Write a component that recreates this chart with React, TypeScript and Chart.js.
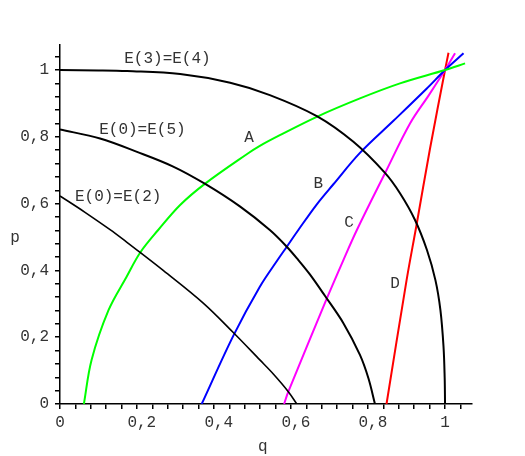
import React, { useEffect, useRef } from 'react';
import { Chart, registerables } from 'chart.js';

Chart.register(...registerables);

// Curves as [q, p] pairs
const curveE34: [number, number][] = [
  [0, 1.0], [0.1, 0.999], [0.174, 0.997], [0.312, 0.988], [0.442, 0.962],
  [0.545, 0.925], [0.667, 0.862], [0.762, 0.785], [0.844, 0.692],
  [0.883, 0.631], [0.922, 0.551], [0.953, 0.461], [0.975, 0.371],
  [0.988, 0.281], [0.996, 0.172], [0.999, 0.08], [1.0, 0.0],
];
const curveE05: [number, number][] = [
  [0, 0.822], [0.104, 0.795], [0.2, 0.755], [0.294, 0.711], [0.377, 0.659],
  [0.468, 0.591], [0.545, 0.521], [0.589, 0.471], [0.619, 0.431], [0.649, 0.388],
  [0.688, 0.324], [0.736, 0.242], [0.779, 0.147], [0.801, 0.077], [0.818, 0.0],
];
const curveE02: [number, number][] = [
  [0, 0.623], [0.065, 0.574], [0.13, 0.522], [0.173, 0.485], [0.208, 0.454],
  [0.268, 0.4], [0.372, 0.302], [0.45, 0.214], [0.519, 0.132], [0.554, 0.09],
  [0.593, 0.037], [0.615, 0.0],
];
const curveA: [number, number][] = [
  [0.062, 0.0], [0.082, 0.132], [0.126, 0.281], [0.173, 0.381], [0.208, 0.453],
  [0.255, 0.521], [0.312, 0.596], [0.377, 0.66], [0.485, 0.748], [0.519, 0.773],
  [0.571, 0.805], [0.667, 0.86], [0.779, 0.915], [0.883, 0.96], [1.0, 1.0], [1.052, 1.02],
];
const curveB: [number, number][] = [
  [0.368, 0.0], [0.45, 0.204], [0.519, 0.351], [0.565, 0.431], [0.589, 0.471],
  [0.619, 0.521], [0.667, 0.598], [0.71, 0.658], [0.779, 0.752], [0.866, 0.848],
  [0.952, 0.944], [1.0, 1.0], [1.048, 1.05],
];
const curveC: [number, number][] = [
  [0.582, 0.0], [0.593, 0.037], [0.693, 0.316], [0.736, 0.431], [0.771, 0.521],
  [0.844, 0.691], [0.909, 0.84], [0.958, 0.925], [1.0, 1.0], [1.026, 1.05],
];
const curveD: [number, number][] = [
  [0.848, 0.0], [0.9, 0.37], [0.925, 0.53], [0.961, 0.765], [1.0, 1.0], [1.009, 1.052],
];

const xTickLabels = ['0', ' 0,2', ' 0,4', ' 0,6', ' 0,8', '1'];
const yTickLabels = ['0', '0,2', '0,4', '0,6', '0,8', '1'];
const minorStep = 0.04;
const minorPerMajor = 5;
const xMax = 1.07;
const yMax = 1.075;

const annotations = [
  { text: 'E(3)=E(4)', q: 0.279, p: 1.033 },
  { text: 'E(0)=E(5)', q: 0.214, p: 0.82 },
  { text: 'E(0)=E(2)', q: 0.151, p: 0.621 },
  { text: 'A', q: 0.491, p: 0.797 },
  { text: 'B', q: 0.671, p: 0.659 },
  { text: 'C', q: 0.751, p: 0.544 },
  { text: 'D', q: 0.87, p: 0.359 },
  { text: 'p', q: -0.117, p: 0.497 },
  { text: 'q', q: 0.527, p: -0.129 },
];

const FONT = '"Liberation Mono", "DejaVu Sans Mono", monospace';
const TEXT_COLOR = '#333';

const toPts = (c: [number, number][]) => c.map(([x, y]) => ({ x, y }));

const buildTicks = (max: number) => {
  const t: { value: number }[] = [];
  for (let k = 0; k * minorStep <= max - 0.02; k++) t.push({ value: +(k * minorStep).toFixed(4) });
  return t;
};

const labelFor = (labels: string[]) => (value: number) => {
  const k = Math.round(value / minorStep);
  if (k % minorPerMajor === 0) {
    const i = k / minorPerMajor;
    return labels[i] ?? '';
  }
  return '';
};

const textPlugin = {
  id: 'texts',
  afterDraw(chart: any) {
    const { ctx } = chart;
    const x = chart.scales.x;
    const y = chart.scales.y;
    ctx.save();
    ctx.font = `16px ${FONT}`;
    ctx.fillStyle = TEXT_COLOR;
    ctx.textAlign = 'center';
    ctx.textBaseline = 'middle';
    for (const a of annotations) {
      ctx.fillText(a.text, x.getPixelForValue(a.q), y.getPixelForValue(a.p));
    }
    ctx.restore();
  },
};

export default function App() {
  const ref = useRef<HTMLCanvasElement | null>(null);
  useEffect(() => {
    document.body.style.margin = '0';
    if (!ref.current) return;
    const ds = (data: [number, number][], color: string, width: number) => ({
      data: toPts(data),
      borderColor: color,
      backgroundColor: color,
      borderWidth: width,
      pointRadius: 0,
      showLine: true,
      tension: 0.35,
      fill: false,
    });
    const chart = new Chart(ref.current, {
      type: 'scatter',
      data: {
        datasets: [
          ds(curveE34, '#000000', 2),
          ds(curveE05, '#000000', 2),
          ds(curveE02, '#000000', 1.6),
          ds(curveA, '#00ff00', 2),
          ds(curveB, '#0000ff', 2),
          ds(curveC, '#ff00ff', 2),
          ds(curveD, '#ff0000', 2),
        ],
      },
      options: {
        animation: false,
        responsive: false,
        devicePixelRatio: 1,
        layout: { padding: { top: 45, right: 53, left: 0, bottom: 0 } },
        plugins: { legend: { display: false }, tooltip: { enabled: false } },
        scales: {
          x: {
            type: 'linear',
            min: 0,
            max: xMax,
            afterFit: (s: any) => { s.height = 52; },
            afterBuildTicks: (s: any) => { s.ticks = buildTicks(xMax); },
            grid: { drawOnChartArea: false, drawTicks: true, tickLength: 5, color: '#000', lineWidth: 1.5 },
            border: { display: true, color: '#000', width: 1.5 },
            ticks: {
              autoSkip: false,
              maxRotation: 0,
              padding: 4,
              color: TEXT_COLOR,
              font: { family: FONT, size: 16 },
              callback: (v: any) => labelFor(xTickLabels)(Number(v)),
            },
          },
          y: {
            type: 'linear',
            min: 0,
            max: yMax,
            afterFit: (s: any) => { s.width = 60; },
            afterBuildTicks: (s: any) => { s.ticks = buildTicks(yMax); },
            grid: { drawOnChartArea: false, drawTicks: true, tickLength: 5, color: '#000', lineWidth: 1.5 },
            border: { display: true, color: '#000', width: 1.5 },
            ticks: {
              autoSkip: false,
              padding: 6,
              color: TEXT_COLOR,
              font: { family: FONT, size: 16 },
              callback: (v: any) => labelFor(yTickLabels)(Number(v)),
            },
          },
        },
      },
      plugins: [textPlugin],
    });
    return () => chart.destroy();
  }, []);
  return (
    <div style={{ width: 525, height: 456 }}>
      <canvas ref={ref} width={525} height={456} />
    </div>
  );
}
